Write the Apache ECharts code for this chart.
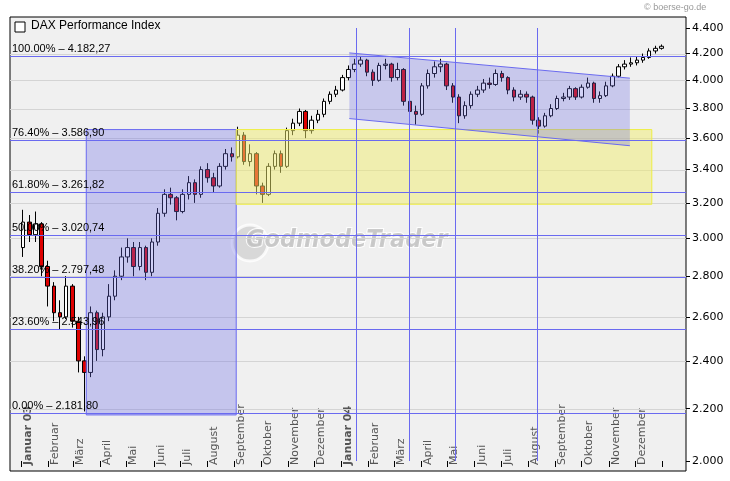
<!DOCTYPE html>
<html><head><meta charset="utf-8">
<script src="https://cdn.jsdelivr.net/npm/echarts@6/dist/echarts.min.js"></script>
<style>html,body{margin:0;background:#fff}#c{width:730px;height:481px}</style></head>
<body><div id="c"></div>
<script>
// weekly candles (Friday dates)
const startWeek = '2003-01-03';
const firstOpen = 2950;
const closes = [3090,3020,3080,2850,2750,2620,2600,2750,2580,2400,2350,2620,2450,2600,2700,2800,2900,2950,2850,2950,2820,2980,3140,3250,3230,3150,3250,3320,3250,3400,3350,3300,3420,3500,3480,3620,3450,3500,3300,3250,3420,3500,3420,3650,3700,3780,3650,3720,3760,3850,3900,3930,
4020,4080,4120,4150,4060,4000,4110,4120,4020,4080,3850,3780,3760,3960,4050,4100,4120,3960,3880,3750,3820,3900,3930,3980,3970,4050,4020,3930,3880,3900,3880,3720,3680,3750,3800,3870,3880,3940,3880,3950,3980,3870,3890,3960,4030,4100,4120,4130,4150,4170,4220,4240,4256];
const highs = [3160,3130,3150,3090,2880,2770,2680,2800,2760,2600,2420,2650,2630,2620,2760,2830,2950,3000,2980,2980,2960,3000,3170,3280,3290,3240,3280,3360,3340,3420,3440,3380,3440,3530,3540,3676,3640,3560,3510,3320,3440,3520,3520,3670,3730,3800,3790,3750,3790,3870,3920,3960,
4040,4110,4160,4180,4160,4080,4130,4160,4130,4130,4090,3880,3820,3980,4080,4140,4160,4130,3980,3900,3850,3920,3960,4010,4020,4080,4070,4030,3950,3930,3920,3890,3740,3770,3830,3890,3910,3960,3950,3970,4020,3990,3920,3990,4050,4120,4150,4170,4180,4200,4240,4260,4270];
const lows = [2900,2980,2980,2800,2650,2580,2540,2590,2550,2350,2189,2330,2400,2420,2580,2680,2780,2870,2800,2830,2780,2800,2960,3120,3190,3100,3140,3220,3200,3230,3320,3260,3290,3400,3450,3470,3430,3420,3250,3200,3240,3400,3380,3410,3620,3680,3600,3630,3700,3740,3830,3880,
3920,4000,4060,4100,4030,3960,3990,4080,3990,4000,3820,3700,3690,3750,3940,4020,4060,3930,3840,3700,3730,3800,3880,3910,3940,3960,3990,3900,3850,3860,3840,3690,3630,3670,3740,3790,3850,3860,3860,3870,3940,3840,3840,3880,3950,4020,4080,4100,4110,4130,4160,4200,4230];
const fibValues = [4182.27,3586.90,3261.82,3020.74,2797.48,2543.96,2181.80];
const fibLabels = ['100.00% – 4.182,27','76.40% – 3.586,90','61.80% – 3.261,82','50.00% – 3.020,74','38.20% – 2.797,48','23.60% – 2.543,96','0.00% – 2.181,80'];
const yTicks = [2000,2200,2400,2600,2800,3000,3200,3400,3600,3800,4000,4200,4400];
const monthNames = ['Januar','Februar','März','April','Mai','Juni','Juli','August','September','Oktober','November','Dezember'];
const vLineDates = ['2004-01-18','2004-03-18','2004-05-10','2004-08-11'];
const blueBox = {from:'2003-03-16', to:'2003-09-03', low:2175, high:3657};
const yellowBox = {from:'2003-09-03', to:'2004-12-20', low:3192, high:3657};
const channelDates = ['2004-01-10','2004-11-25'];
const channelUpper = [4205,4016];
const channelLower = [3731,3551];

const DAY = 86400000;
const T = s=>Date.parse(s);
const t0 = T(startWeek);
const candles = []; let prev = firstOpen;
closes.forEach((c,i)=>{ candles.push([t0+i*7*DAY, prev, c, lows[i], highs[i]]); prev=c; });
const monthStarts=[], monthMids=[];
for(let y=2003;y<=2004;y++) for(let m=0;m<12;m++){ monthStarts.push(Date.UTC(y,m,1)); monthMids.push(Date.UTC(y,m,9)); }
monthStarts.push(Date.UTC(2005,0,1));
const fmt = v=>{const s=String(Math.round(v));return s.slice(0,s.length-3)+'.'+s.slice(-3);};
const BL='#6a6af0';
const XMIN=Date.UTC(2002,11,19), XMAX=Date.UTC(2005,0,28);

const chart = echarts.init(document.getElementById('c'));
chart.setOption({
  animation:false,
  textStyle:{fontFamily:'DejaVu Sans'},
  grid:{left:10,right:44,top:28,bottom:20},
  xAxis:{type:'value',min:XMIN,max:XMAX,
    axisLine:{show:false},splitLine:{show:false},
    axisTick:{show:true,customValues:monthStarts,length:6,lineStyle:{color:'#000'}},
    axisLabel:{customValues:monthMids,inside:true,rotate:90,fontSize:11,color:'#555',margin:-4,
      formatter:v=>{const d=new Date(v);const m=d.getUTCMonth();if(m===0)return '{b|Januar '+String(d.getUTCFullYear()).slice(2)+'}';return monthNames[m];},
      rich:{b:{fontWeight:'bold',fontSize:11,color:'#555'}}}},
  yAxis:{type:'log',position:'right',min:2000,max:4400,
    axisLine:{show:false},splitLine:{show:false},
    axisTick:{show:true,customValues:yTicks,length:4,lineStyle:{color:'#000'}},
    axisLabel:{customValues:yTicks,formatter:fmt,fontSize:11,color:'#000',margin:6}},
  graphic:[
    {type:'rect',z:-10,shape:{x:10,y:17,width:676,height:454},style:{fill:'#f0f0f0',stroke:'#000',lineWidth:1}},
    {type:'text',left:644,top:3,style:{text:'© boerse-go.de',fontSize:9,fill:'#999'}},
    {type:'rect',shape:{x:15,y:22,width:10,height:10},style:{fill:'#fff',stroke:'#000',lineWidth:1},z:20},
    {type:'text',left:31,top:20,style:{text:'DAX Performance Index',fontSize:12,fill:'#000'},z:20},
    {type:'circle',shape:{cx:250,cy:243,r:18},style:{fill:'rgba(200,200,200,0.6)',stroke:'rgba(255,255,255,0.8)',lineWidth:3},z:1},
    {type:'text',x:246,y:228,style:{text:'GodmodeTrader',font:'italic bold 25px "DejaVu Sans Condensed"',fill:'rgba(190,190,190,0.8)',stroke:'rgba(255,255,255,0.9)',lineWidth:2},z:1}
  ],
  series:[
    {type:'candlestick',z:2,data:candles,barWidth:4,
      itemStyle:{color:'#ffffff',color0:'#dd0000',borderColor:'#000',borderColor0:'#000',borderWidth:1}},
    {type:'custom',z:1,data:yTicks.slice(1,-1),renderItem:(p,api)=>{
      const a=api.coord([XMIN,api.value(0)]), b=api.coord([XMAX,api.value(0)]);
      return {type:'line',shape:{x1:a[0],y1:Math.round(a[1])+0.5,x2:b[0],y2:Math.round(b[1])+0.5},style:{stroke:'#d4d4d4',lineWidth:1}};
    }},
    {type:'custom',z:3,data:[0],renderItem:(p,api)=>{
      const rect=(bx,fill,stroke)=>{const a=api.coord([T(bx.from),bx.high]),b=api.coord([T(bx.to),bx.low]);
        return {type:'rect',shape:{x:a[0],y:a[1],width:b[0]-a[0],height:b[1]-a[1]},style:{fill:fill,stroke:stroke,lineWidth:1}};};
      const pts=[api.coord([T(channelDates[0]),channelUpper[0]]),api.coord([T(channelDates[1]),channelUpper[1]]),
                 api.coord([T(channelDates[1]),channelLower[1]]),api.coord([T(channelDates[0]),channelLower[0]])];
      const ch=[rect(blueBox,'rgba(110,110,230,0.33)',BL),rect(yellowBox,'rgba(240,235,110,0.5)','#eeee44'),
        {type:'polygon',shape:{points:pts},style:{fill:'rgba(110,110,230,0.3)'}},
        {type:'line',shape:{x1:pts[0][0],y1:pts[0][1],x2:pts[1][0],y2:pts[1][1]},style:{stroke:BL,lineWidth:1}},
        {type:'line',shape:{x1:pts[3][0],y1:pts[3][1],x2:pts[2][0],y2:pts[2][1]},style:{stroke:BL,lineWidth:1}}];
      fibValues.forEach((v,i)=>{const a=api.coord([XMIN,v]),b=api.coord([XMAX,v]);const y=Math.round(a[1])+0.5;
        ch.push({type:'line',shape:{x1:a[0],y1:y,x2:b[0],y2:y},style:{stroke:BL,lineWidth:1}});
        ch.push({type:'text',x:a[0]+2,y:y-2,style:{text:fibLabels[i],fontSize:11,fill:'#000',textVerticalAlign:'bottom',font:'11px "DejaVu Sans"'}});});
      vLineDates.forEach(d=>{const a=api.coord([T(d),4400]),b=api.coord([T(d),2000]);const x=Math.round(a[0])+0.5;
        ch.push({type:'line',shape:{x1:x,y1:a[1],x2:x,y2:b[1]},style:{stroke:BL,lineWidth:1}});});
      return {type:'group',children:ch};
    }}
  ]
});
</script></body></html>
